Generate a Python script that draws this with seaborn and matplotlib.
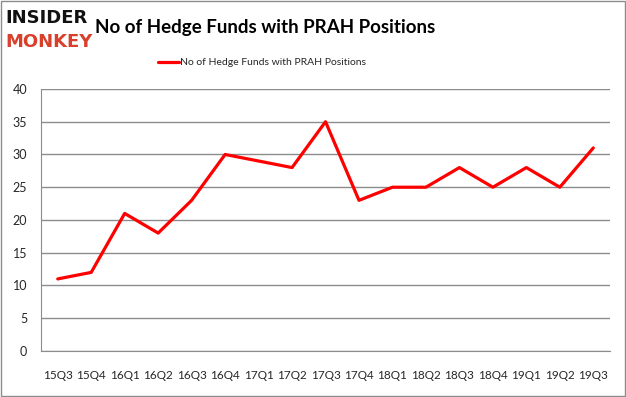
import matplotlib
matplotlib.use("Agg")
import matplotlib.pyplot as plt
import numpy as np
import pandas as pd
import seaborn as sns

# Data
quarters = ["15Q3", "15Q4", "16Q1", "16Q2", "16Q3", "16Q4", "17Q1", "17Q2", "17Q3",
            "17Q4", "18Q1", "18Q2", "18Q3", "18Q4", "19Q1", "19Q2", "19Q3"]
hedge_funds = [11, 12, 21, 18, 23, 30, 29, 28, 35, 23, 25, 25, 28, 25, 28, 25, 31]
series_name = "No of Hedge Funds with PRAH Positions"

sns.set_style("white")
plt.rcParams["font.family"] = ["Lato", "DejaVu Sans"]

df = pd.DataFrame({"pos": np.arange(len(quarters)), "value": hedge_funds})

fig = plt.figure(figsize=(6.26, 3.97), dpi=100)
ax = fig.add_axes([0.0655, 0.1159, 0.909, 0.66])

sns.lineplot(data=df, x="pos", y="value", color="#ff0000", linewidth=2.3, ax=ax,
             label=series_name, legend=False)

# Axis styling (Excel-like)
ax.set_xlim(-0.5, len(quarters) - 0.5)
ax.set_ylim(0, 40)
ax.set_yticks(range(0, 41, 5))
ax.yaxis.grid(True, color="#8c8c8c", linewidth=1)
ax.set_axisbelow(True)
ax.set_xticks(np.arange(len(quarters)))
ax.set_xticklabels(quarters, fontsize=8.5)
ax.set_xticks(np.arange(-0.5, len(quarters)), minor=True)
ax.tick_params(axis="x", which="major", length=0, pad=14)
ax.tick_params(axis="x", which="minor", length=4, color="#8c8c8c", direction="out")
ax.tick_params(axis="y", length=4, color="#8c8c8c", labelsize=9, direction="out", pad=6)
ax.set_xlabel("")
ax.set_ylabel("")
for side in ["top", "right"]:
    ax.spines[side].set_visible(False)
for side in ["left", "bottom"]:
    ax.spines[side].set_color("#8c8c8c")

# Legend
handle = ax.lines[0]
fig.legend([handle], [series_name], loc="center", bbox_to_anchor=(0.418, 0.842),
           frameon=False, fontsize=7.5, handlelength=2.0, handletextpad=0.1)

# Title and logo
fig.text(0.152, 0.93, "No of Hedge Funds with PRAH Positions", ha="left", va="center",
         fontsize=13.5, fontweight="bold", color="#000000")
fig.text(0.008, 0.955, "INSIDER", ha="left", va="center", fontsize=13,
         fontweight="heavy", color="#111111", family="DejaVu Sans")
fig.text(0.008, 0.895, "MONKEY", ha="left", va="center", fontsize=13,
         fontweight="heavy", color="#d9402b", family="DejaVu Sans")

# Outer border
fig.patches.append(plt.Rectangle((0.002, 0.003), 0.996, 0.994, transform=fig.transFigure,
                                 fill=False, edgecolor="#8c8c8c", linewidth=1))

fig.savefig("out.png", dpi=100)
